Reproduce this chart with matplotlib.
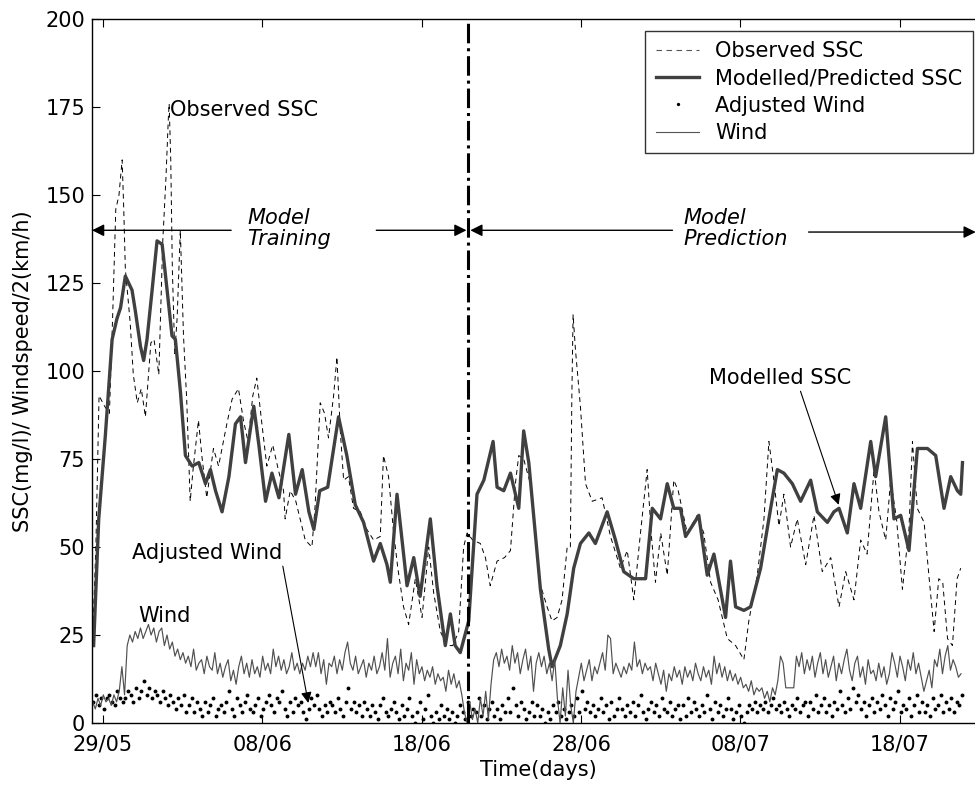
import numpy as np
import matplotlib
matplotlib.use("Agg")
import matplotlib.pyplot as plt
from matplotlib.lines import Line2D

plt.rcParams['font.family'] = ['DejaVu Sans']

# x in days after 29/05
tick_days = [0, 10, 20, 30, 40, 50]
tick_labels = ['29/05', '08/06', '18/06', '28/06', '08/07', '18/07']
split_day = 22.93

obs_day = [-0.65, -0.45, -0.25, 0.1, 0.4, 0.6, 0.8, 1.0, 1.2, 1.3, 1.4, 1.7, 1.9, 2.15, 2.4,
           2.66, 3.0, 3.2, 3.5, 3.75, 3.95, 4.1, 4.15, 4.25, 4.35, 4.5, 4.65, 4.85, 5.05, 5.25,
           5.47, 5.65, 5.99, 6.2, 6.51, 6.93, 7.25, 7.77, 8.1, 8.5, 8.81, 9.1, 9.4, 9.65, 9.97,
           10.28, 10.65, 11.0, 11.33, 11.43, 11.75, 12.1, 12.37, 12.69, 13.11, 13.3, 13.63, 13.9,
           14.15, 14.47, 14.68, 14.89, 15.1, 15.4, 15.72, 16.15, 16.56, 16.98, 17.4, 17.6, 17.92,
           18.24, 18.5, 18.86, 19.18, 19.6, 20.02, 20.44, 20.75, 21.17, 21.59, 21.95, 22.32, 22.63,
           22.85, 23.2, 23.68, 24.0, 24.3, 24.73, 25.2, 25.57, 25.88, 26.09, 26.4, 26.82, 27.4,
           27.87, 28.18, 28.5, 28.81, 29.13, 29.33, 29.42, 29.5, 29.65, 29.96, 30.28, 30.7, 31.32,
           31.85, 32.47, 32.9, 33.31, 33.73, 34.15, 34.4, 34.67, 35.0, 35.41, 35.82, 36.1, 36.66,
           37.29, 37.7, 38.13, 38.6, 39.18, 39.7, 40.22, 40.53, 41.06, 41.48, 41.79, 42.1, 42.42,
           42.73, 43.15, 43.57, 44.1, 44.62, 45.14, 45.67, 46.19, 46.61, 47.13, 47.55, 47.95,
           48.39, 48.7, 49.12, 49.43, 49.8, 50.17, 50.58, 50.8, 51.1, 51.53, 51.85, 52.16, 52.45,
           52.7, 53.0, 53.31, 53.6, 53.83]
obs_val = [24, 50, 93, 90, 88, 115, 146, 150, 160, 146, 129, 114, 99, 91, 95,
           87, 108, 109, 99, 137, 155, 172, 176, 160, 129, 105, 115, 140, 110, 92,
           63, 72, 86, 76, 64, 78, 73, 85, 92, 95, 86, 80, 93, 98, 85,
           73, 79, 72, 66, 58, 66, 63, 58, 52, 50, 61, 91, 88,
           81, 93, 104, 83, 69, 70, 61, 60, 55, 52, 53, 76, 70,
           54, 44, 33, 28, 41, 30, 50, 37, 26, 22, 22, 26, 50,
           54, 52, 51, 47, 39, 46, 47, 49, 68, 76, 75, 68, 40,
           33, 29, 30, 35, 50, 50, 92, 116, 106, 90, 68, 63, 64,
           53, 44, 49, 35, 54, 72, 54, 40, 54, 42, 69, 66, 54,
           59, 54, 40, 35, 24, 22, 18, 29, 42, 58, 80, 69, 56,
           65, 50, 58, 45, 59, 43, 47, 33, 43, 35, 52, 48,
           72, 60, 52, 69, 58, 38, 55, 80, 61, 57, 41, 26, 41,
           40, 24, 22, 41, 44]

mod_day = [-0.59, -0.27, 0.15, 0.57, 0.88, 1.1, 1.4, 1.82, 2.03, 2.35, 2.55, 2.76, 3.08, 3.39,
           3.71, 4.02, 4.33, 4.54, 4.86, 5.17, 5.59, 6.01, 6.43, 6.74, 7.06, 7.47, 7.9, 8.31,
           8.63, 8.94, 9.46, 9.78, 10.2, 10.6, 11.04, 11.66, 12.08, 12.5, 12.92, 13.23, 13.6,
           14.1, 14.78, 15.3, 15.83, 16.35, 16.98, 17.4, 17.82, 18.03, 18.45, 19.08, 19.5, 19.9,
           20.54, 20.96, 21.48, 21.8, 22.1, 22.42, 22.95, 23.47, 23.9, 24.48, 24.73, 25.15,
           25.57, 26.09, 26.4, 26.72, 27.45, 27.97, 28.18, 28.7, 29.13, 29.54, 29.96, 30.49,
           30.9, 31.64, 32.16, 32.68, 33.31, 34.05, 34.47, 34.99, 35.41, 35.82, 36.24, 36.56,
           36.98, 37.39, 37.92, 38.34, 39.07, 39.38, 39.7, 40.22, 40.64, 41.27, 41.9, 42.32,
           42.73, 43.26, 43.78, 44.41, 44.83, 45.46, 45.87, 46.19, 46.71, 47.13, 47.55, 48.18,
           48.49, 49.12, 49.64, 50.06, 50.58, 51.11, 51.74, 52.26, 52.78, 53.2, 53.62, 53.83,
           53.94]
mod_val = [22, 58, 82, 109, 115, 118, 127, 123, 117, 107, 103, 109, 123, 137,
           136, 123, 110, 109, 94, 76, 73, 74, 68, 72, 66, 60, 70, 85,
           87, 74, 90, 79, 63, 71, 64, 82, 65, 72, 60, 55, 66,
           67, 87, 76, 62, 57, 46, 51, 45, 40, 65, 39, 47, 36,
           58, 39, 22, 31, 22, 20, 29, 65, 69, 80, 67, 66,
           71, 61, 83, 74, 38, 21, 16, 22, 31, 44, 51, 54,
           51, 60, 52, 43, 41, 41, 61, 58, 68, 61, 61, 53,
           56, 59, 42, 48, 30, 46, 33, 32, 33, 44, 61, 72,
           71, 68, 63, 69, 60, 57, 60, 61, 54, 68, 61, 80,
           70, 87, 58, 59, 49, 78, 78, 76, 61, 70, 66, 65,
           74]

# wind, one value every 4 hours from day -0.65
wind_start = -0.65
wind_val = [6, 4, 7, 5, 8, 6, 7, 5, 8, 6, 9, 16, 8, 22, 25, 23, 26, 24,
            27, 24, 26, 28, 25, 27, 23, 26, 27, 22, 25, 21, 23, 19, 21, 18, 20, 17,
            19, 16, 21, 15, 17, 18, 14, 19, 16, 15, 20, 14, 17, 13, 16, 18, 12, 15,
            11, 16, 19, 14, 17, 13, 18, 14, 16, 13, 19, 15, 17, 14, 21, 16, 19, 15,
            18, 14, 16, 20, 15, 17, 14, 17, 15, 19, 16, 20, 16, 20, 14, 18, 11, 17,
            16, 19, 14, 18, 15, 20, 23, 17, 15, 19, 14, 16, 18, 13, 17, 15, 19, 14,
            16, 20, 15, 24, 13, 17, 19, 14, 21, 12, 17, 15, 20, 11, 18, 14, 16, 12,
            15, 13, 16, 11, 14, 12, 13, 9, 15, 11, 14, 10, 12, 8, 3, 0, 6, 1,
            4, 0, 7, 2, 9, 1, 11, 18, 20, 16, 21, 17, 19, 15, 22, 17, 20, 14,
            18, 21, 15, 19, 9, 17, 20, 16, 19, 14, 17, 12, 18, 7, 0, 10, 2, 15,
            5, 0, 9, 13, 17, 12, 15, 18, 12, 16, 14, 17, 20, 15, 25, 24, 14, 17,
            15, 13, 16, 14, 17, 15, 23, 16, 18, 14, 17, 15, 16, 12, 17, 14, 11, 15,
            9, 14, 12, 16, 13, 15, 11, 16, 13, 15, 12, 17, 14, 12, 16, 13, 15, 11,
            19, 14, 17, 13, 16, 12, 15, 12, 14, 11, 13, 10, 11, 9, 12, 8, 10, 9,
            10, 7, 9, 6, 10, 8, 12, 19, 17, 10, 10, 10, 10, 19, 16, 20, 14, 18,
            15, 19, 13, 17, 20, 14, 18, 13, 16, 19, 12, 17, 14, 18, 21, 15, 12, 17,
            19, 13, 16, 11, 18, 14, 15, 12, 17, 13, 16, 11, 14, 20, 17, 13, 19, 16,
            12, 18, 15, 20, 14, 17, 13, 9, 12, 15, 10, 18, 16, 21, 14, 19, 22, 15,
            18, 16, 13, 14]

adj_start = -0.6
adj_val = [6, 8, 5, 7, 4, 7, 8, 6, 5, 9, 7, 6, 7, 9, 8, 6, 10, 7,
           9, 12, 8, 10, 7, 9, 8, 6, 9, 7, 5, 8, 6, 4, 7, 5, 8, 3,
           5, 7, 3, 6, 4, 2, 6, 3, 5, 7, 2, 4, 5, 3, 6, 9, 4, 2,
           7, 5, 3, 6, 8, 4, 3, 5, 7, 2, 4, 6, 8, 5, 3, 7, 6, 9,
           4, 2, 6, 3, 7, 5, 6, 3, 1, 4, 7, 5, 8, 4, 2, 5, 3, 6,
           5, 3, 7, 4, 2, 6, 10, 4, 6, 3, 5, 2, 6, 4, 2, 5, 3, 1,
           5, 7, 3, 2, 4, 6, 3, 1, 5, 2, 4, 7, 2, 0, 3, 6, 1, 4,
           8, 2, 0, 3, 1, 5, 2, 4, 1, 3, 0, 2, 5, 3, 1, 6, 2, 4,
           3, 7, 2, 5, 1, 4, 6, 2, 4, 1, 5, 3, 7, 3, 10, 5, 2, 6,
           4, 1, 3, 6, 2, 5, 2, 4, 0, 3, 1, 5, 3, 6, 2, 4, 1, 3,
           5, 2, 7, 3, 9, 4, 6, 3, 5, 2, 4, 7, 3, 5, 1, 6, 2, 4,
           7, 4, 2, 5, 3, 6, 2, 5, 8, 3, 1, 4, 6, 3, 5, 2, 7, 4,
           3, 6, 2, 4, 5, 1, 5, 2, 7, 3, 6, 4, 2, 5, 3, 8, 4, 1,
           6, 3, 5, 2, 4, 7, 4, 1, 3, 5, 2, 0, 3, 5, 4, 6, 3, 5,
           4, 6, 3, 5, 7, 4, 5, 3, 6, 4, 2, 5, 4, 7, 3, 5, 6, 2,
           6, 4, 8, 3, 5, 7, 3, 5, 2, 6, 4, 9, 5, 3, 7, 4, 10, 6,
           8, 4, 6, 2, 5, 7, 3, 6, 4, 8, 5, 2, 7, 4, 6, 9, 3, 5,
           4, 7, 2, 5, 8, 3, 6, 3, 5, 2, 7, 4, 5, 8, 3, 6, 4, 7,
           3, 6, 5, 8]

wind_day = wind_start + np.arange(len(wind_val)) / 6.0
adj_day = adj_start + np.arange(len(adj_val)) / 6.0

fig = plt.figure(figsize=(9.75, 7.9), dpi=100)
# right spine sits just past the picture edge, as in the reference
ax = fig.add_axes([0.0944, 0.0848, 0.915, 0.891])

ax.plot(obs_day, obs_val, color='k', lw=0.7, dashes=(5, 4))
ax.plot(mod_day, mod_val, color='#404040', lw=2.4)
ax.plot(adj_day, adj_val, 'o', color='k', ms=2.8, mew=0)
ax.plot(wind_day, wind_val, color='#505050', lw=0.85)

ax.axvline(split_day, color='k', ls='-.', lw=2.2)

ax.set_xlim(-0.69, 55.3)
ax.set_ylim(0, 200)
ax.set_xticks(tick_days)
ax.set_xticklabels(tick_labels)
ax.set_yticks(np.arange(0, 201, 25))
ax.tick_params(direction='in', top=True, right=True, labelsize=15, length=6, width=0.8)
ax.tick_params(axis='x', pad=8)
ax.tick_params(axis='y', pad=5)
for s in ax.spines.values():
    s.set_linewidth(1.0)
ax.set_xlabel('Time(days)', fontsize=15, labelpad=4)
ax.set_ylabel('SSC(mg/l)/ Windspeed/2(km/h)', fontsize=15, labelpad=9)

# training / prediction arrows
arr = dict(arrowstyle='-|>', color='k', lw=1.0, mutation_scale=18, shrinkA=0, shrinkB=0)
ax.annotate('', xy=(-0.69, 140), xytext=(8.04, 140), arrowprops=arr)
ax.annotate('', xy=(split_day - 0.12, 140), xytext=(17.15, 140), arrowprops=arr)
ax.annotate('', xy=(split_day + 0.12, 140), xytext=(35.74, 140), arrowprops=arr)
ax.annotate('', xy=(54.77, 139.5), xytext=(44.28, 139.5), arrowprops=arr)
ax.text(9.05, 140.6, 'Model\nTraining', fontsize=15, style='italic', va='center', ha='left',
        linespacing=1.05)
ax.text(36.43, 140.6, 'Model\nPrediction', fontsize=15, style='italic', va='center', ha='left',
        linespacing=1.05)

# callouts
thin = dict(arrowstyle='-|>', color='k', lw=0.8, mutation_scale=16, shrinkA=0, shrinkB=0)
ax.text(4.2, 174.3, 'Observed SSC', fontsize=15, va='center', ha='left')
ax.annotate('Modelled SSC', xy=(46.17, 62), xytext=(38.0, 97.9), fontsize=15, va='center',
            ha='left', arrowprops=dict(thin, relpos=(0.64, 0.0)))
ax.annotate('Adjusted Wind', xy=(12.88, 5.7), xytext=(1.82, 48.2), fontsize=15, va='center',
            ha='left', arrowprops=dict(thin, relpos=(1.0, 0.0)))
ax.text(2.2, 30.4, 'Wind', fontsize=15, va='center', ha='left')

handles = [Line2D([], [], color='#555555', lw=0.8, dashes=(5, 4)),
           Line2D([], [], color='#404040', lw=2.4),
           Line2D([], [], color='k', ls='', marker='o', ms=2.4, mew=0),
           Line2D([], [], color='#555555', lw=0.8)]
labels = ['Observed SSC', 'Modelled/Predicted SSC', 'Adjusted Wind', 'Wind']
leg = ax.legend(handles, labels, loc='upper right', fontsize=15, frameon=True, fancybox=False,
                borderaxespad=0.55, labelspacing=0.35, handlelength=2.1, handletextpad=0.75,
                borderpad=0.5)
leg.get_frame().set_edgecolor('k')
leg.get_frame().set_linewidth(1.0)

fig.savefig('out.png', dpi=100)
